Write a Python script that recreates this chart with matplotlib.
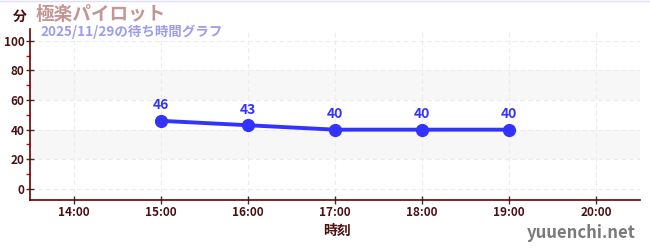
import matplotlib
matplotlib.use("Agg")
import matplotlib.pyplot as plt
from matplotlib.ticker import FixedLocator
from matplotlib.lines import Line2D

plt.rcParams['font.family'] = ['Noto Sans CJK JP', 'DejaVu Sans']

hours = [15, 16, 17, 18, 19]
waits = [46, 43, 40, 40, 40]
xtick_hours = [14, 15, 16, 17, 18, 19, 20]
xtick_labels = ["14:00", "15:00", "16:00", "17:00", "18:00", "19:00", "20:00"]
yticks = [0, 20, 40, 60, 80, 100]
title = "極楽パイロット"
subtitle = "2025/11/29の待ち時間グラフ"
unit = "分"
xlabel = "時刻"
watermark = "yuuenchi.net"

fig = plt.figure(figsize=(6.5, 2.5), dpi=100)
ax = fig.add_axes([30/650, 1-200/250, 610/650, 171/250])

dark = "#4d0f0f"
spine = "#6b0000"
line_c = "#3333ff"

ax.set_xlim(13.5, 20.5)
ax.set_ylim(-7.5, 108)

for lo, hi in [(20, 40), (60, 80)]:
    ax.axhspan(lo, hi, color="#f7f7f7", zorder=0, lw=0)

ax.xaxis.set_major_locator(FixedLocator(xtick_hours))
ax.set_xticklabels(xtick_labels)
ax.yaxis.set_major_locator(FixedLocator(yticks))
ax.yaxis.set_minor_locator(FixedLocator([10, 30, 50, 70, 90]))
ax.grid(True, which="major", color="#ececec", linestyle=(0, (4, 3)), lw=0.8, zorder=0)

for s in ["top", "right"]:
    ax.spines[s].set_visible(False)
for s in ["left", "bottom"]:
    ax.spines[s].set_color(spine)
    ax.spines[s].set_linewidth(1.2)

ax.tick_params(axis="both", which="major", color="#333333", length=6, width=1,
               direction="inout", pad=1, labelcolor=dark, labelsize=8.5)
ax.tick_params(axis="y", which="minor", color="#dd0000", length=3, width=1)
for lab in ax.get_xticklabels() + ax.get_yticklabels():
    lab.set_fontweight("bold")

ax.plot(hours, waits, color=line_c, lw=2.8, marker="o", ms=8.5, zorder=3,
        solid_capstyle="round")
for h, w in zip(hours, waits):
    ax.annotate(str(w), (h, w), xytext=(0, 6), textcoords="offset points",
                ha="center", va="bottom", color=line_c, fontsize=10,
                fontweight="bold")

fig.text(337/650, 1-231/250, xlabel, color=dark, fontsize=10, fontweight="bold",
         ha="center", va="center")

fig.text(13/650, 1-17/250, unit, color=dark, fontsize=10, fontweight="bold",
         ha="left", va="center")
fig.text(36/650, 1-14/250, title, color="#c49595", fontsize=13.4,
         fontweight="bold", ha="left", va="center")
fig.text(40/650, 1-32/250, subtitle, color="#9c9cf0", fontsize=9.7,
         fontweight="bold", ha="left", va="center")
fig.text(636/650, 1-233/250, watermark, color="#7a7a7a", fontsize=12,
         fontweight="bold", ha="right", va="center")
fig.add_artist(Line2D([0, 1], [0.998, 0.998], color="#e0e0f4", lw=1,
                      transform=fig.transFigure))

fig.savefig("out.png", dpi=100)
